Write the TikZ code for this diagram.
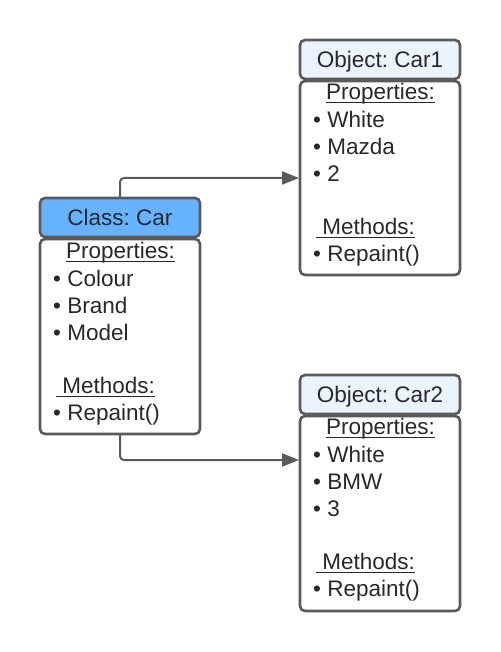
\documentclass[tikz,border=0pt]{standalone}
\usepackage{fontspec}
\setmainfont{Liberation Sans}
\usetikzlibrary{arrows.meta}
\frenchspacing
\definecolor{strokec}{RGB}{90,90,90}
\definecolor{textc}{RGB}{40,40,40}
\definecolor{classfill}{RGB}{102,178,255}
\definecolor{objfill}{RGB}{235,243,255}
\tikzset{
  box/.style={draw=strokec, line width=2.6pt, rounded corners=5pt},
  hdrtext/.style={anchor=base, text=textc, inner sep=0pt, font=\fontsize{22.5}{26}\selectfont},
  ltext/.style={anchor=base west, text=textc, inner sep=0pt, font=\fontsize{22.5}{26}\selectfont},
  ctext/.style={anchor=base, text=textc, inner sep=0pt, font=\fontsize{22.5}{26}\selectfont},
  conn/.style={draw=strokec, line width=2pt, rounded corners=4pt, -{Triangle[length=17pt,width=13pt]}},
}
\newcommand{\ul}[1]{\setbox0\hbox{#1}\rlap{\rule[-3.6pt]{\wd0}{1.3pt}}\box0}
\begin{document}
\begin{tikzpicture}[x=1pt,y=-1pt]
\useasboundingbox (0,0) rectangle (500,652);
% class
\draw[box, fill=classfill] (40,198) rectangle (200,237);
\draw[box, fill=white] (40,239) rectangle (200,434);
\node[hdrtext] (ch) at (120,225.5) {Class: Car};
\node[ctext] (cp) at (120.5,258.8) {\ul{Properties:}};
\node[ltext] (c1) at (53,286.7) {• Colour};
\node[ltext] (c2) at (53,313.3) {• Brand};
\node[ltext] (c3) at (53,340) {• Model};
\node[ltext] (cm) at (56,393.3) {\ul{\ Methods:}};
\node[ltext] (c4) at (53,420) {• Repaint()};
\coordinate (ctop) at (120,198);
\coordinate (cbot) at (120,434);
% car1
\draw[box, fill=objfill] (300,40) rectangle (460,79);
\draw[box, fill=white] (300,81) rectangle (460,275);
\node[hdrtext] (h1) at (380,67.5) {Object: Car1};
\node[ctext] (p1) at (380.5,99.8) {\ul{Properties:}};
\node[ltext] (a1) at (313,127.5) {• White};
\node[ltext] (a2) at (313,154.2) {• Mazda};
\node[ltext] (a3) at (313,181.3) {• 2};
\node[ltext] (m1) at (316,234.3) {\ul{\ Methods:}};
\node[ltext] (a4) at (313,261) {• Repaint()};
\coordinate (in1) at (299,178);
% car2
\draw[box, fill=objfill] (300,375) rectangle (460,414);
\draw[box, fill=white] (300,416) rectangle (460,611);
\node[hdrtext] (h2) at (380,402.5) {Object: Car2};
\node[ctext] (p2) at (380.5,434.8) {\ul{Properties:}};
\node[ltext] (b1) at (313,462.5) {• White};
\node[ltext] (b2) at (313,489.2) {• BMW};
\node[ltext] (b3) at (313,516.3) {• 3};
\node[ltext] (m2) at (316,569.3) {\ul{\ Methods:}};
\node[ltext] (b4) at (313,596) {• Repaint()};
\coordinate (in2) at (299,460);
% connectors
\draw[conn] (ctop) |- (in1);
\draw[conn] (cbot) |- (in2);
\end{tikzpicture}
\end{document}
